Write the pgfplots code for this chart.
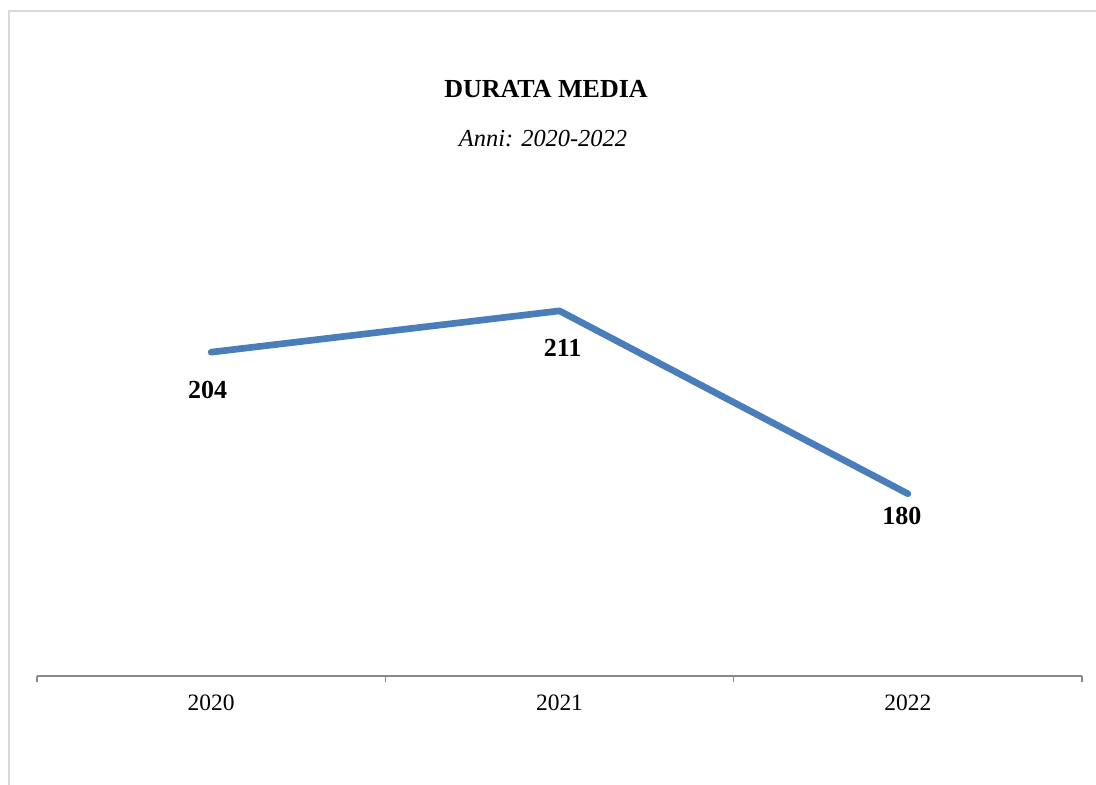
\documentclass[border=0pt]{standalone}
\usepackage{fontspec}
\setmainfont{Liberation Serif}
\usepackage{pgfplots}
\usepackage{pgfplotstable}
\pgfplotsset{compat=1.18}

\definecolor{linea}{HTML}{4A7EBB}
\definecolor{asse}{HTML}{898989}
\definecolor{cornice}{HTML}{D9D9D9}

% anno, valore, spostamento etichetta (pt)
\pgfplotstableread{
x  y    dx    dy
0  204  -2.6  -34.5
1  211   2.3  -34.5
2  180  -4.5  -23.3
}\durata

\begin{document}
\begin{tikzpicture}
\path[use as bounding box] (0,0) rectangle (822pt,588.75pt);
\draw[cornice, line width=0.8pt] (6.75pt,0) -- (6.75pt,580.5pt) -- (822pt,580.5pt);

\node[anchor=base, font=\fontsize{19.5}{22}\selectfont\bfseries, inner sep=0]
  at (409.5pt,515.25pt) {DURATA MEDIA};
\node[anchor=base, font=\fontsize{18.3}{21}\selectfont\itshape, inner sep=0]
  at (407.25pt,478.5pt) {Anni: 2020-2022};

\begin{axis}[
    at={(27.75pt,81.75pt)}, anchor=south west,
    width=783.75pt, height=357pt, scale only axis,
    xmin=-0.5, xmax=2.5,
    ymin=149.1, ymax=229.8,
    axis x line*=bottom,
    axis y line=none,
    x axis line style={asse, line width=1.1pt},
    xtick={-0.5,0.5,1.5,2.5},
    xticklabels={},
    tick align=outside,
    major tick length=4.5pt,
    xtick style={asse, line width=1.1pt},
    extra x ticks={0,1,2},
    extra x tick labels={2020,2021,2022},
    extra x tick style={major tick length=0pt,
        xticklabel style={anchor=base, yshift=-26.25pt, inner sep=0,
            font=\fontsize{17.6}{20}\selectfont}},
    clip=false,
    /pgf/number format/assume math mode=true,
]
\addplot[linea, line width=5pt, line cap=round, line join=round,
    nodes near coords={\pgfmathprintnumber{\pgfplotspointmeta}},
    point meta=explicit,
    visualization depends on={\thisrow{dx} \as \dx},
    visualization depends on={\thisrow{dy} \as \dy},
    every node near coord/.append style={black, anchor=base, inner sep=0,
        xshift=\dx pt, yshift=\dy pt,
        font=\fontsize{19.5}{22}\selectfont\bfseries},
    ] table[x=x, y=y, meta=y] {\durata};
\end{axis}
\end{tikzpicture}
\end{document}
